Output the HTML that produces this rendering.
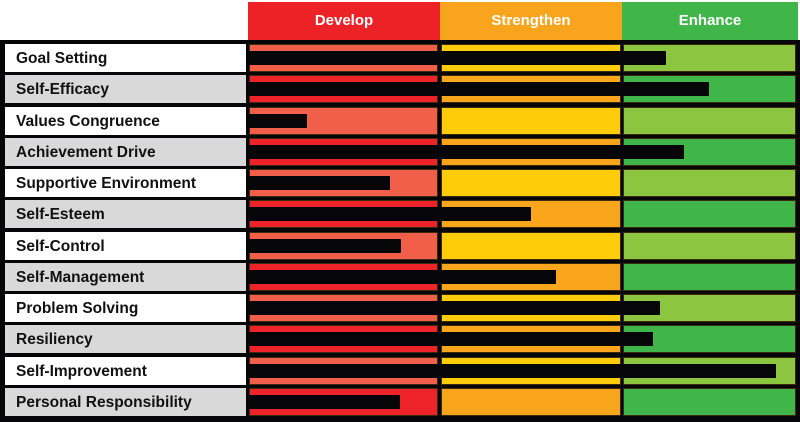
<!DOCTYPE html>
<html><head><style>
body{margin:0;width:800px;height:422px;background:#fff;position:relative;overflow:hidden;font-family:"Liberation Sans",sans-serif}
div{position:absolute;box-sizing:border-box}
.h{top:2px;height:38px;color:#fff;font-weight:bold;font-size:15px;text-align:center;line-height:38px}
.l{left:5px;width:241px;height:28px;font-weight:bold;font-size:15.5px;line-height:30px;padding-left:11px;color:#111}
.c{height:28px;border:1px solid #3a2a10}
.b{left:246px;height:14px;background:#060608}
</style></head><body>
<div class="h" style="left:248px;width:192px;background:#ed2227">Develop</div>
<div class="h" style="left:440px;width:182px;background:#f8a51d">Strengthen</div>
<div class="h" style="left:622px;width:176px;background:#40b64a">Enhance</div>
<div style="left:0;top:40px;width:800px;height:382px;background:#060608"></div>
<div id="rows"></div>
<script>
var L=["Goal Setting","Self-Efficacy","Values Congruence","Achievement Drive","Supportive Environment","Self-Esteem","Self-Control","Self-Management","Problem Solving","Resiliency","Self-Improvement","Personal Responsibility"];
var E=[666,709,307,684,390,531,401,556,660,653,776,400];
var h="";
for(var i=0;i<12;i++){var t=Math.round(44+i*31.27),odd=i%2==0;
h+='<div class="l" style="top:'+t+'px;background:'+(odd?'#fff':'#d9d9d9')+'">'+L[i]+'</div>';
h+='<div class="c" style="top:'+t+'px;left:249px;width:189px;background:'+(odd?'#f15e4a':'#ed2329')+'"></div>';
h+='<div class="c" style="top:'+t+'px;left:441px;width:180px;background:'+(odd?'#ffcc0b':'#f9a61c')+'"></div>';
h+='<div class="c" style="top:'+t+'px;left:623px;width:173px;background:'+(odd?'#8cc640':'#40b64a')+'"></div>';
h+='<div class="b" style="top:'+(t+7)+'px;width:'+(E[i]-246)+'px"></div>';}
document.getElementById("rows").outerHTML=h;
</script>
</body></html>
